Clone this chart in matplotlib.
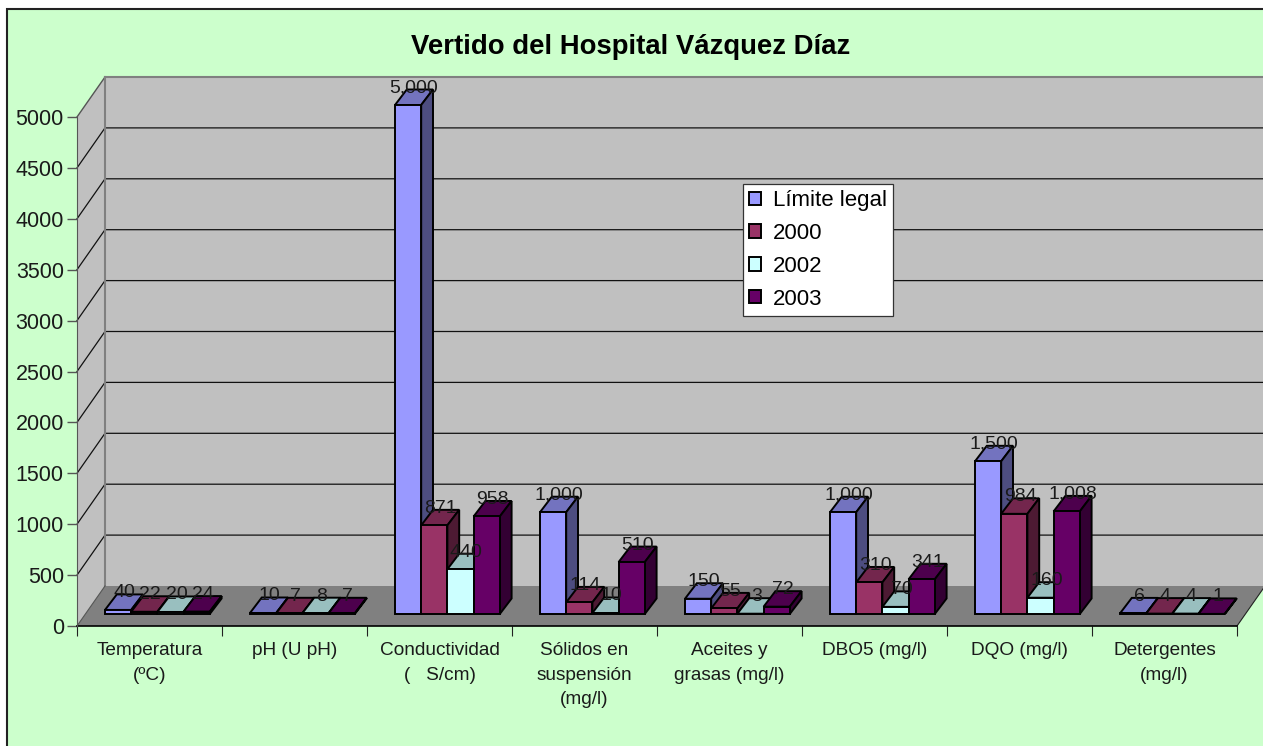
import matplotlib
matplotlib.use('Agg')
import numpy as np
import matplotlib.pyplot as plt
from matplotlib.patches import Rectangle

plt.rcParams['font.family'] = ['Liberation Sans', 'DejaVu Sans']

categorias = ['Temperatura\n(ºC)', 'pH (U pH)', 'Conductividad\n(   S/cm)', 'Sólidos en\nsuspensión\n(mg/l)',
              'Aceites y\ngrasas (mg/l)', 'DBO5 (mg/l)', 'DQO (mg/l)', 'Detergentes\n(mg/l)']
series = ['Límite legal', '2000', '2002', '2003']
limite = [40, 10, 5000, 1000, 150, 1000, 1500, 6]
v2000 = [22, 7, 871, 114, 55, 310, 984, 4]
v2002 = [20, 8, 440, 10, 3, 70, 160, 4]
v2003 = [24, 7, 958, 510, 72, 341, 1008, 1]
valores = [limite, v2000, v2002, v2003]
colores = ['#9999FF', '#993366', '#CCFFFF', '#660066']
colores_top = ['#7373BF', '#73264D', '#99BFBF', '#4D004D']
colores_lado = ['#4D4D80', '#4D1A33', '#668080', '#330033']
yticks = np.arange(0, 5001, 500)

W, H = 1263, 746
# plano frontal del grafico en pixeles
x0, x1 = 77, 1237
y0, y5000 = 626, 117
px_x = (x1 - x0) / 8
px_y = (y0 - y5000) / 5000

fig = plt.figure(figsize=(W / 100, H / 100), dpi=100, facecolor='white')
ax = fig.add_axes([x0 / W, 1 - y0 / H, (x1 - x0) / W, (y0 - y5000) / H])
ax.set_xlim(0, 8)
ax.set_ylim(0, 5000)
ax.patch.set_visible(False)

fig.add_artist(Rectangle((7 / W, -0.01), 1.1, 1 - 9 / H + 0.01, transform=fig.transFigure,
                         facecolor='#CCFFCC', edgecolor='#222222', linewidth=1.5, zorder=-1))

# profundidad del suelo y de las barras
fx = 28 / px_x
fy = 40 / px_y
bx = 11.8 / px_x
by = 15.5 / px_y
base = 12 / px_y
ancho = 26.2 / px_x
inicio = 28 / px_x

# paredes y suelo
ax.fill([0, fx, fx, 0], [0, fy, 5000 + fy, 5000], color='#C0C0C0', clip_on=False, zorder=0.5, lw=0)
ax.fill([fx, 8 + fx, 8 + fx, fx], [fy, fy, 5000 + fy, 5000 + fy], color='#C0C0C0', clip_on=False, zorder=0.5, lw=0)
ax.fill([0, 8, 8 + fx, fx], [0, 0, fy, fy], color='#808080', clip_on=False, zorder=0.6, lw=0)
for t in yticks[1:-1]:
    ax.plot([0, fx, 8 + fx], [t, t + fy, t + fy], color='#111111', lw=0.9, clip_on=False, zorder=0.8)
ax.plot([0, fx], [5000, 5000 + fy], color='#555555', lw=1.0, clip_on=False, zorder=0.8)
ax.plot([fx, fx], [fy, 5000 + fy], color='#808080', lw=1.5, clip_on=False, zorder=0.9)
ax.plot([fx, 8 + fx], [5000 + fy, 5000 + fy], color='#808080', lw=1.5, clip_on=False, zorder=0.9)
ax.plot([0, fx], [0, fy], color='#555555', lw=0.8, clip_on=False, zorder=0.9)
ax.plot([8, 8 + fx], [0, fy], color='#222222', lw=0.8, clip_on=False, zorder=0.9)

# barras de izquierda a derecha para que tapen bien
for i, (nombre, vals) in enumerate(zip(series, valores)):
    xs = np.arange(8) + inicio + i * ancho
    for x, v in zip(xs, vals):
        top = base + v
        ax.fill([x, x + ancho, x + ancho + bx, x + bx], [top, top, top + by, top + by],
                facecolor=colores_top[i], edgecolor='black', lw=1.4, clip_on=False, zorder=3 + 2 * i)
        ax.fill([x + ancho, x + ancho + bx, x + ancho + bx, x + ancho], [base, base + by, top + by, top],
                facecolor=colores_lado[i], edgecolor='black', lw=1.4, clip_on=False, zorder=3 + 2 * i)
        txt = f'{v:,}'
        ax.text(x + ancho / 2 + bx / 2, top + by + 1.5 / px_y, txt, ha='center', va='center', fontsize=14,
                color='#1A1A1A', zorder=20, clip_on=False)
    ax.bar(xs, vals, ancho, bottom=base, align='edge', color=colores[i], edgecolor='black', linewidth=1.4,
           clip_on=False, zorder=4 + 2 * i, label=nombre)

ax.set_title('Vertido del Hospital Vázquez Díaz', fontsize=19.8, fontweight='bold', x=(631 - x0) / (x1 - x0),
             y=(y0 - 54) / (y0 - y5000), va='baseline', color='black', pad=0)

for s in ['top', 'right']:
    ax.spines[s].set_visible(False)
ax.spines['left'].set_color('#555555')
ax.spines['left'].set_linewidth(0.8)
ax.spines['bottom'].set_color('black')
ax.spines['bottom'].set_linewidth(1.2)
ax.spines['bottom'].set_zorder(2)

ax.set_yticks(yticks)
ax.tick_params(axis='y', length=7.5, width=1.0, color='#555555', labelsize=15.5, pad=2, labelcolor='#1A1A1A')
ax.set_xticks(np.arange(9))
ax.set_xticklabels([])
ax.tick_params(axis='x', which='major', length=7, width=0.8, color='#222222')
ax.set_xticks(np.arange(8) + 0.5, minor=True)
ax.set_xticklabels(categorias, minor=True, fontsize=13.7, linespacing=1.59, color='#1A1A1A')
ax.tick_params(axis='x', which='minor', length=0, pad=11.5)

leg = ax.legend(loc='upper left', bbox_to_anchor=(743 / W, 1 - 184 / H), bbox_transform=fig.transFigure,
                frameon=True, fancybox=False, framealpha=1, edgecolor='#333333', fontsize=16,
                handlelength=0.55, handleheight=0.55, handletextpad=0.5, labelspacing=0.53,
                borderpad=0.28, borderaxespad=0)
leg.set_zorder(30)
leg.get_frame().set_linewidth(0.9)

fig.savefig('out.png', dpi=100)
